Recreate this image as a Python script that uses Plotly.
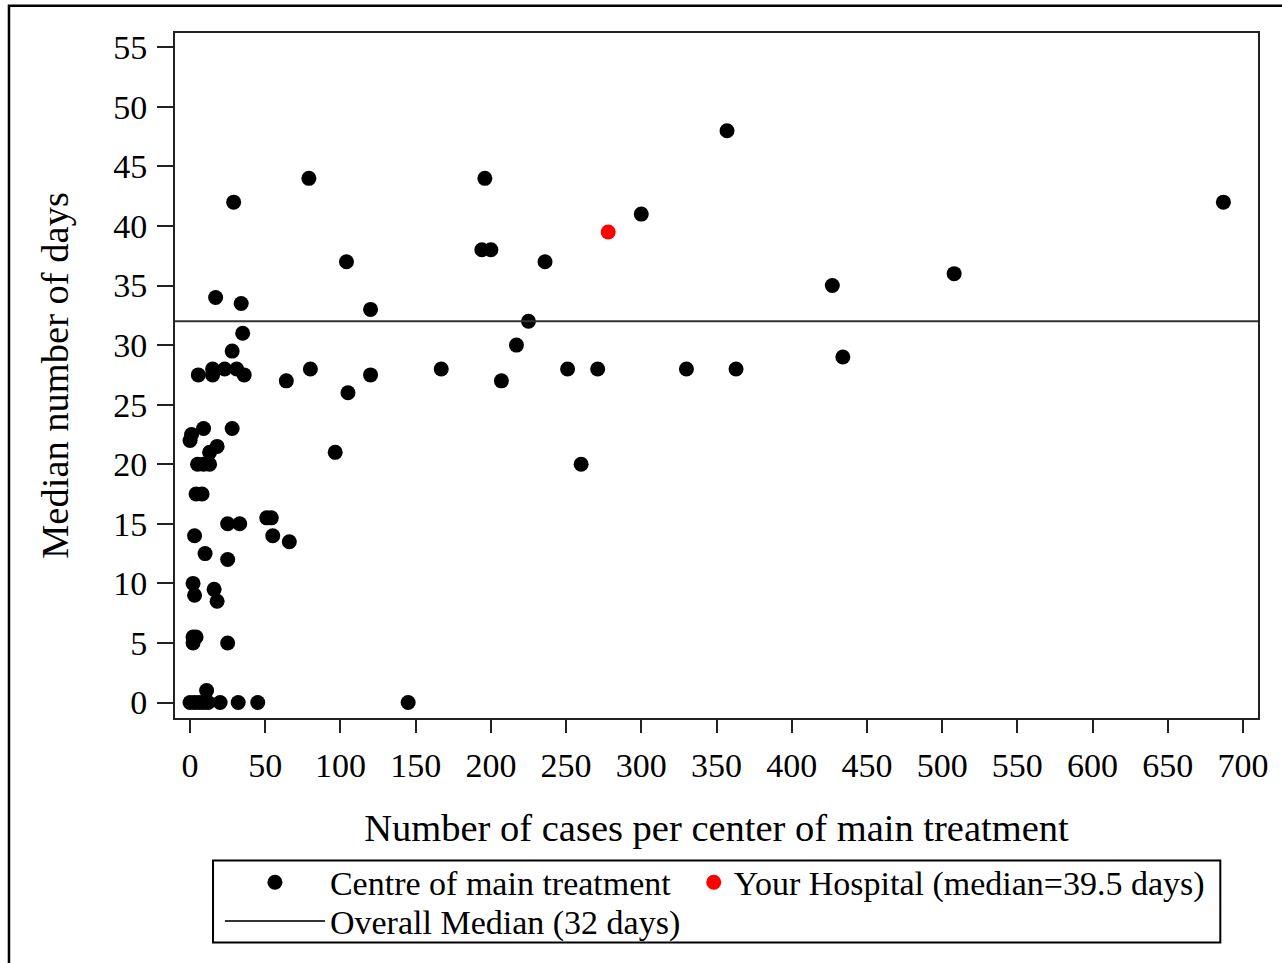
import plotly.graph_objects as go

# Centres of main treatment: number of cases per centre and median days
centre_cases = [17, 34, 35, 28, 5.5, 15, 15, 23, 31, 36, 64, 80,
                79, 29, 104, 120, 120, 105, 96.5, 33, 51, 54, 55, 66,
                196, 194, 200, 236, 300, 225, 217, 167, 207, 251, 271, 330, 363, 260,
                357, 427, 434, 508, 687, 145,
                9, 1, 0, 28, 18, 13, 5, 9, 13, 4, 8, 25,
                3, 10, 25, 2, 3, 16, 18, 2, 4, 2, 25,
                0, 3, 6, 9, 12, 20, 32, 45, 11]
centre_days = [34, 33.5, 31, 29.5, 27.5, 28, 27.5, 28, 28, 27.5, 27, 28,
               44, 42, 37, 33, 27.5, 26, 21, 15, 15.5, 15.5, 14, 13.5,
               44, 38, 38, 37, 41, 32, 30, 28, 27, 28, 28, 28, 28, 20,
               48, 35, 29, 36, 42, 0,
               23, 22.5, 22, 23, 21.5, 21, 20, 20, 20, 17.5, 17.5, 15,
               14, 12.5, 12, 10, 9, 9.5, 8.5, 5.5, 5.5, 5, 5,
               0, 0, 0, 0, 0, 0, 0, 0, 1]

hospital_cases = [278]
hospital_days = [39.5]

overall_median = 32
x_range = [-10, 710]
y_range = [-1.3, 56.2]
x_ticks = list(range(0, 701, 50))
y_ticks = list(range(0, 56, 5))

FONT = "Liberation Serif"
LEG_FONT = dict(family=FONT, size=34, color="black")

fig = go.Figure()
fig.add_trace(go.Scatter(
    x=centre_cases, y=centre_days, mode="markers",
    marker=dict(color="black", size=15),
    name="Centre of main treatment", legend="legend"))
fig.add_trace(go.Scatter(
    x=hospital_cases, y=hospital_days, mode="markers",
    marker=dict(color="#ff0000", size=15),
    name="Your Hospital (median=39.5 days)", legend="legend2"))
fig.add_trace(go.Scatter(
    x=x_range, y=[overall_median, overall_median], mode="lines",
    line=dict(color="#333333", width=2),
    name="Overall Median (32 days)", legend="legend3"))

leg_common = dict(xanchor="left", yanchor="middle", borderwidth=0,
                  bgcolor="rgba(0,0,0,0)", font=LEG_FONT)

fig.update_layout(
    width=1282, height=963,
    margin=dict(l=175, r=24, t=33, b=243),
    paper_bgcolor="white", plot_bgcolor="white",
    font=dict(family=FONT, size=34, color="black"),
    showlegend=True,
    legend=dict(x=0.0415, y=-0.2403, itemwidth=100, **leg_common),
    legend2=dict(x=0.479, y=-0.2403, itemwidth=30, **leg_common),
    legend3=dict(x=0.0415, y=-0.2971, itemwidth=100, **leg_common),
    xaxis=dict(
        range=x_range, tickvals=x_ticks, ticks="outside", ticklen=13,
        tickwidth=2, tickcolor="#222", showline=True, linecolor="#222",
        linewidth=2, mirror=True, showgrid=False, zeroline=False,
        tickfont=dict(family=FONT, size=34), ticklabelstandoff=3,
        title=dict(text="Number of cases per center of main treatment",
                   font=dict(family=FONT, size=38.5), standoff=31)),
    yaxis=dict(
        range=y_range, tickvals=y_ticks, ticks="outside", ticklen=16,
        tickwidth=2, tickcolor="#222", showline=True, linecolor="#222",
        linewidth=2, mirror=True, showgrid=False, zeroline=False,
        tickfont=dict(family=FONT, size=34), ticklabelstandoff=3,
        title=dict(text="Median number of days",
                   font=dict(family=FONT, size=38.5), standoff=33)),
    shapes=[
        dict(type="rect", xref="paper", yref="paper",
             x0=-0.1533, x1=1.2, y0=-0.5, y1=1.0397,
             line=dict(color="black", width=2.5), layer="below"),
        dict(type="rect", xref="paper", yref="paper",
             x0=0.0351, x1=0.9652, y0=-0.3277, y1=-0.2082,
             line=dict(color="black", width=2), layer="below"),
    ],
)

fig.write_html("out.html", config={"displayModeBar": False},
               post_script="document.body.style.margin='0px';")
